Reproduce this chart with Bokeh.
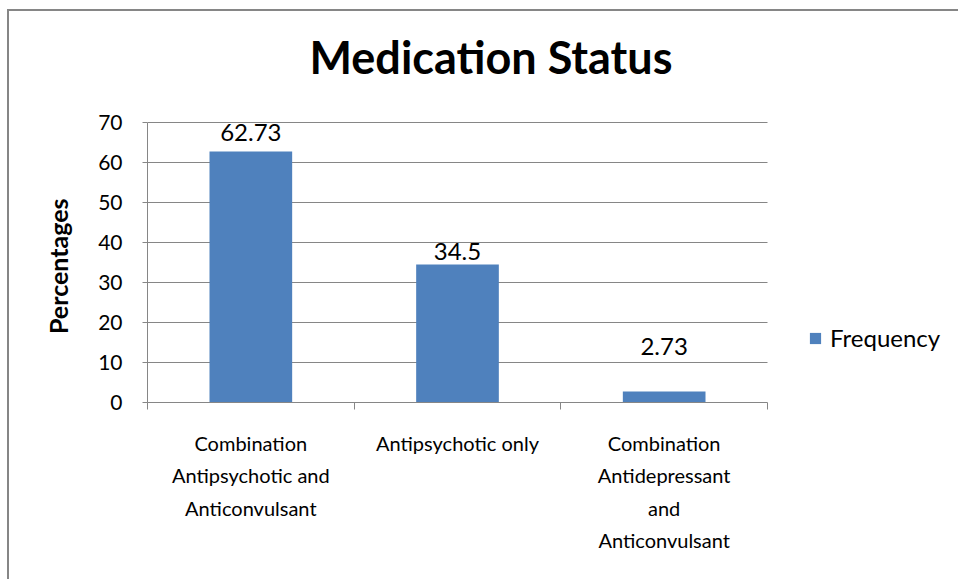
from bokeh.plotting import figure
from bokeh.models import (ColumnDataSource, FixedTicker, Legend, LegendItem,
                          LabelSet, Range1d, Grid)
from bokeh.core.properties import value
from bokeh.embed import file_html
from bokeh.resources import INLINE

categories = ["Combination\nAntipsychotic and\nAnticonvulsant",
              "Antipsychotic only",
              "Combination\nAntidepressant\nand\nAnticonvulsant"]
values = [62.73, 34.5, 2.73]
value_labels = ["62.73", "34.5", "2.73"]
y_ticks = [0, 10, 20, 30, 40, 50, 60, 70]

# pixel offsets of the data labels above the bar tops (style)
label_offsets = [19, 13, 45]

FONT = "Lato"
GRID = "#868686"
BAR = "#4F81BD"

N = len(categories)
Y_MAX = 70
PLOT_W = 620          # width of the category area in px
FRAME_W = 811         # frame extends to the right edge (room for legend)
PLOT_H = 280          # height of the 0..70 area in px
FRAME_H = 315         # frame extends a bit above 70 (room for title)
xpos = [i + 0.5 for i in range(N)]
src = ColumnDataSource(dict(x=xpos, top=values, lab=value_labels, off=label_offsets))

p = figure(frame_width=FRAME_W, frame_height=FRAME_H, output_backend="svg",
           toolbar_location=None,
           x_range=Range1d(0, N * FRAME_W / PLOT_W),
           y_range=Range1d(0, Y_MAX * FRAME_H / PLOT_H),
           min_border_left=138, min_border_right=0, min_border_top=76,
           min_border_bottom=177)

p.title.text = "Medication Status"
p.title.text_font = FONT
p.title.text_font_size = "45px"
p.title.text_font_style = "bold"
p.title.text_color = "#000000"
p.title.align = "left"
p.title.standoff = 8
p.title.offset = 162

r = p.vbar(x="x", top="top", width=0.4, source=src, fill_color=BAR,
           line_color=None)

labels = LabelSet(x="x", y="top", text="lab", source=src, text_align="center",
                  text_baseline="middle", y_offset="off", text_font=value(FONT),
                  text_font_size=value("24px"), text_color="#000000")
p.add_layout(labels)

# y axis (trailing no-break spaces re-centre the label on the 0..70 span)
p.yaxis.bounds = (0, Y_MAX)
p.yaxis.ticker = FixedTicker(ticks=y_ticks)
p.yaxis.axis_label = "Percentages" + "\u00a0" * 7
p.yaxis.axis_label_text_font = FONT
p.yaxis.axis_label_text_font_size = "25px"
p.yaxis.axis_label_text_font_style = "bold"
p.yaxis.axis_label_text_color = "#000000"
p.yaxis.axis_label_standoff = 22
p.yaxis.major_label_text_font = FONT
p.yaxis.major_label_text_font_size = "21px"
p.yaxis.major_label_text_color = "#000000"
p.yaxis.major_label_standoff = 20
p.yaxis.axis_line_color = GRID
p.yaxis.major_tick_line_color = GRID
p.yaxis.major_tick_out = 5
p.yaxis.major_tick_in = 0
p.yaxis.minor_tick_line_color = None

# x axis
p.xaxis.bounds = (0, N)
p.xaxis.ticker = FixedTicker(ticks=xpos, minor_ticks=list(range(N + 1)))
p.xaxis.major_label_overrides = {x: c for x, c in zip(xpos, categories)}
p.xaxis.major_label_text_font = FONT
p.xaxis.major_label_text_font_size = "20px"
p.xaxis.major_label_text_color = "#000000"
p.xaxis.major_label_text_line_height = 1.36
p.xaxis.major_label_standoff = 21
p.xaxis.major_tick_line_color = None
p.xaxis.minor_tick_line_color = GRID
p.xaxis.minor_tick_out = 7
p.xaxis.minor_tick_in = 0
p.xaxis.axis_line_color = GRID

p.xgrid.grid_line_color = None
p.ygrid.grid_line_color = GRID
p.ygrid.ticker = FixedTicker(ticks=y_ticks)
if "cross_bounds" in Grid.properties():
    p.ygrid.cross_bounds = (0, N)
p.outline_line_color = None

legend = Legend(items=[LegendItem(label="Frequency", renderers=[r])],
                location=(661, 50), border_line_color=None,
                background_fill_alpha=0, margin=0, padding=0,
                label_text_font=FONT, label_text_font_size="24px",
                label_text_color="#000000",
                glyph_width=14, glyph_height=14, label_standoff=8)
p.add_layout(legend)

p.styles = {"margin-left": "7px", "margin-top": "9px",
            "border-left": "2px solid #868686",
            "border-top": "2px solid #868686"}

open("out.html", "w").write(file_html(p, INLINE))
